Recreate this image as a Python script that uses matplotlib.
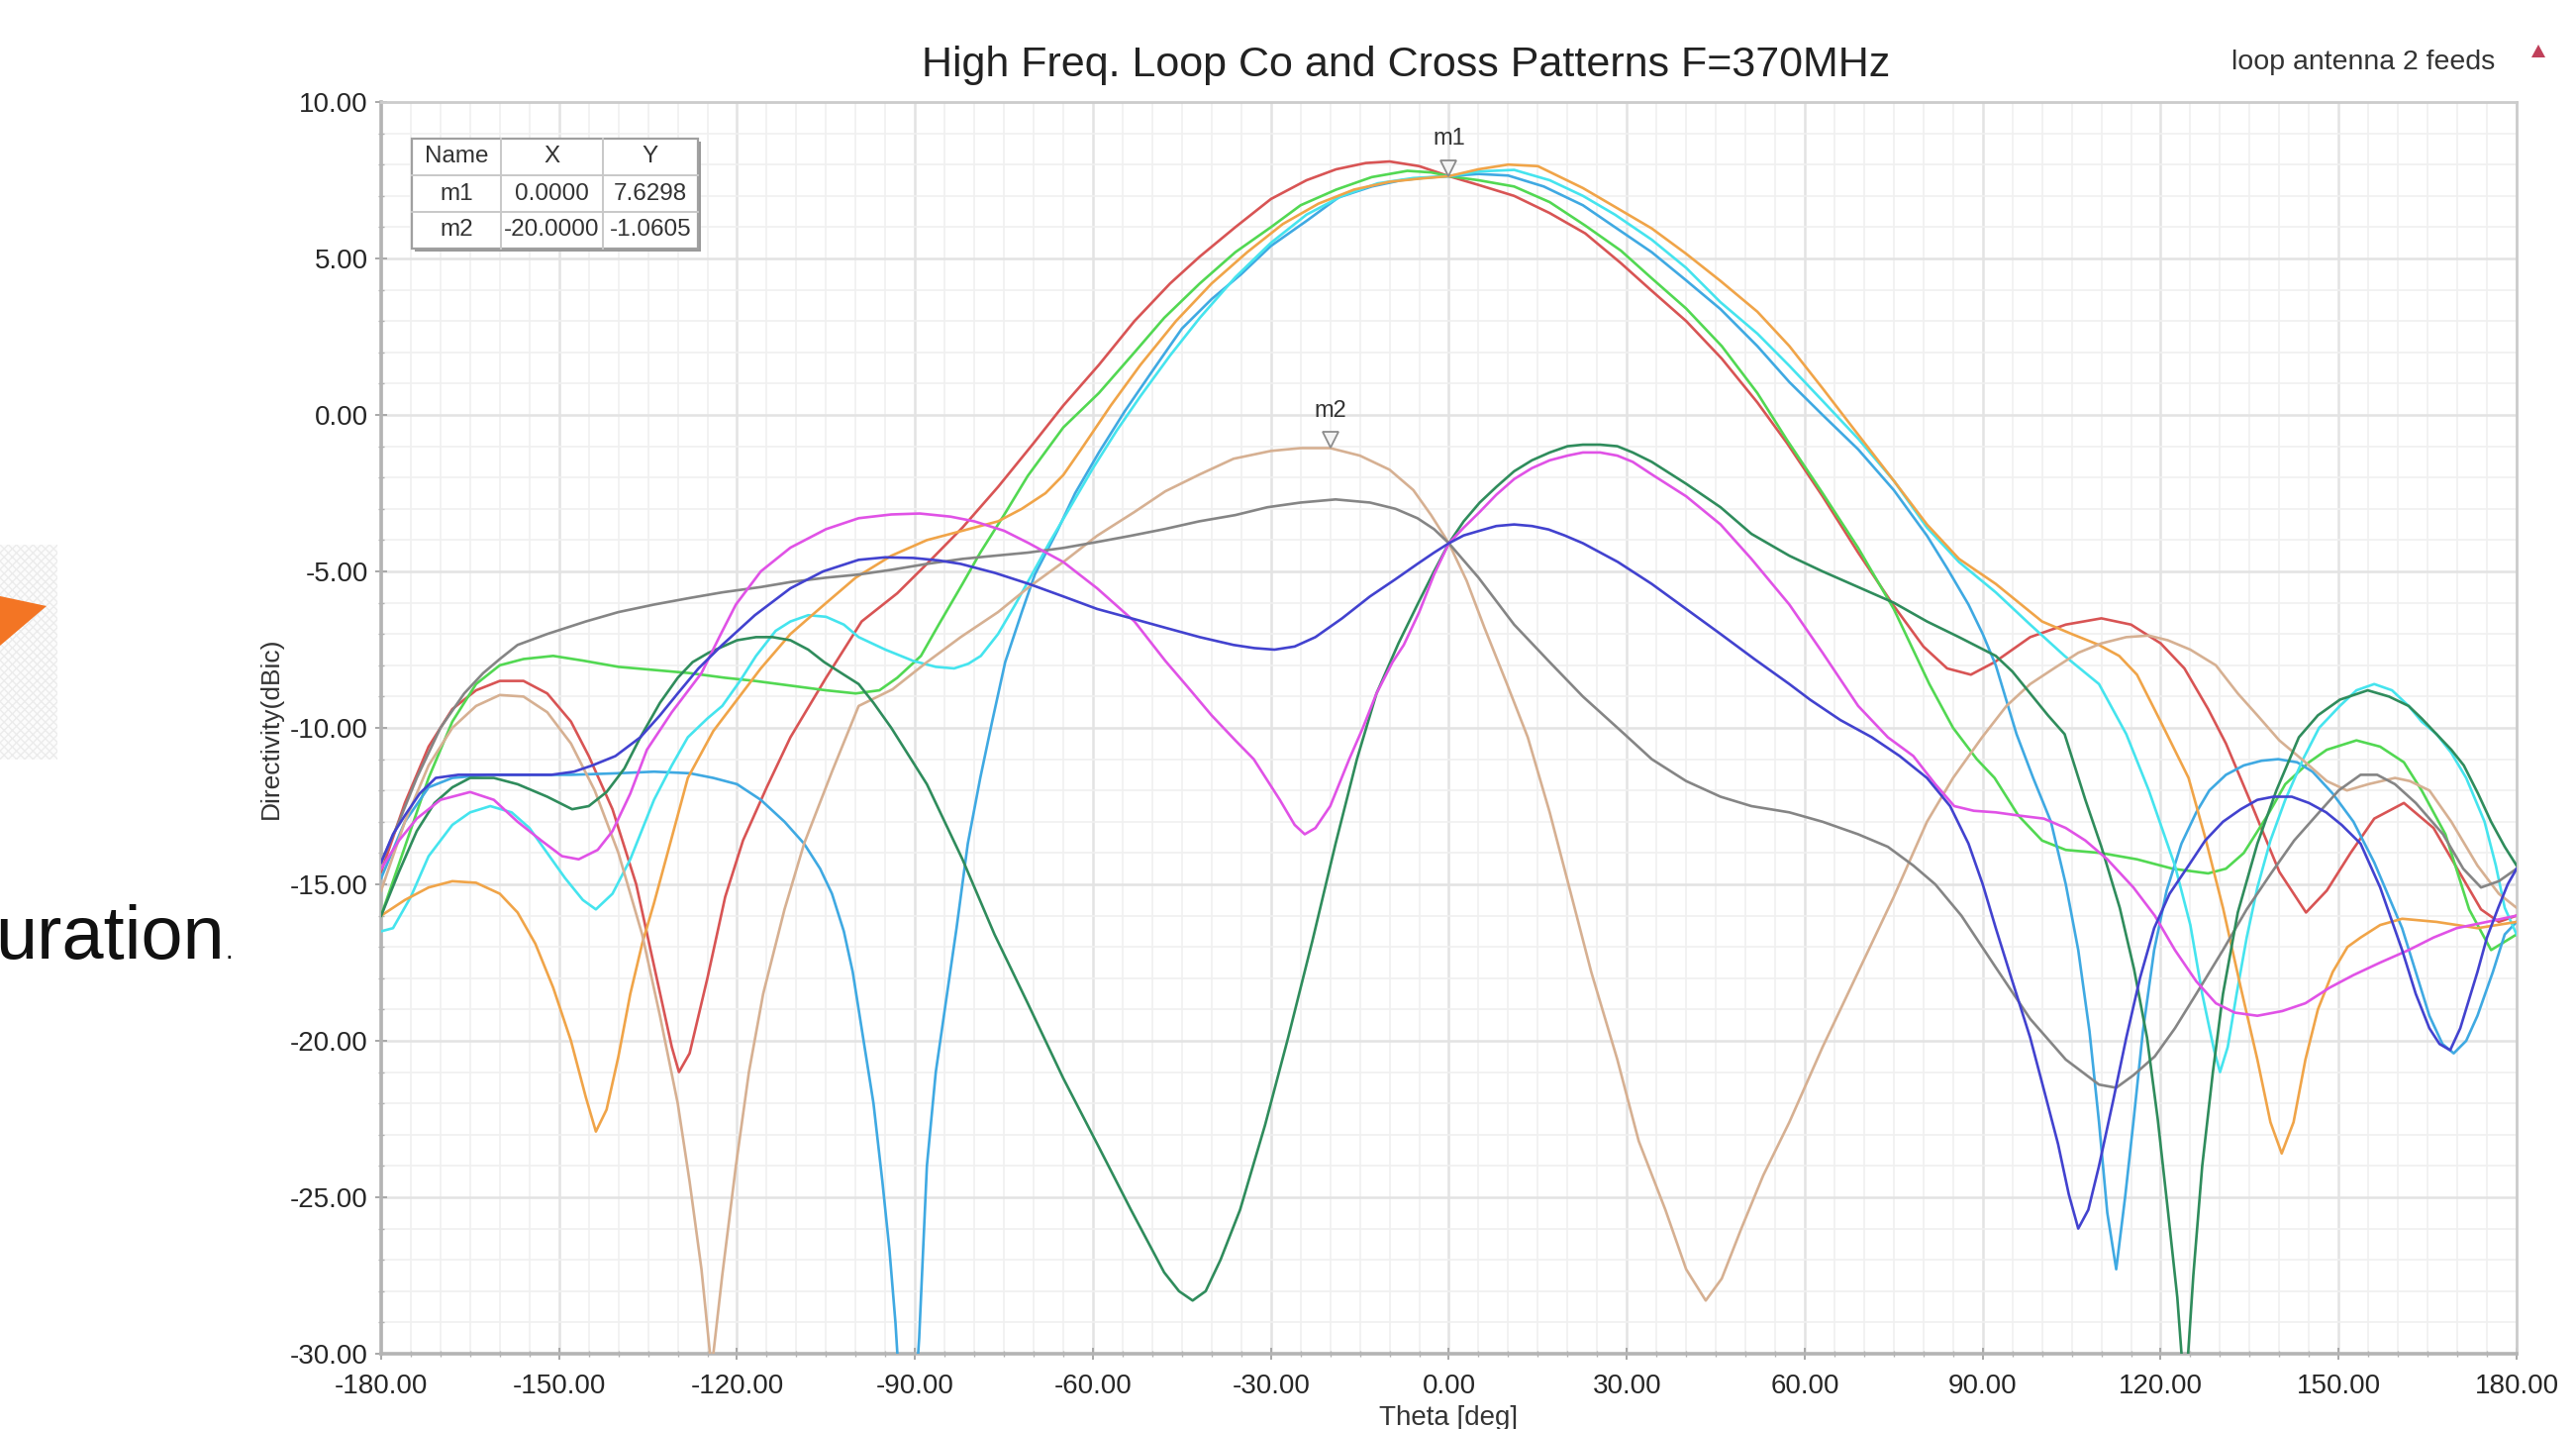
import matplotlib
matplotlib.use('Agg')
import matplotlib.pyplot as plt
from matplotlib.patches import Rectangle, Polygon
from matplotlib.ticker import MultipleLocator, FormatStrFormatter
from matplotlib.transforms import ScaledTranslation

plt.rcParams['font.family'] = ['Liberation Sans', 'DejaVu Sans']
plt.rcParams['axes.unicode_minus'] = False

W, H, DPI = 2602, 1443, 100

# ---- traces (theta in deg, directivity in dBic) ----
red_theta = [-180, -176, -172, -168, -164, -160, -156, -152, -148, -145, -141, -137, -134, -131, -129.8, -128, -125,
             -122, -119, -115, -111, -105, -99, -93, -88, -82, -76, -70, -65, -59, -53, -47, -42, -36, -30, -24, -19,
             -14, -10, -5, 0, 5, 11, 17, 23, 29, 34, 40, 46, 52, 57, 63, 69, 75, 80, 84, 88, 92, 98, 104, 110, 115,
             120, 124, 128, 131, 135, 140, 144.5, 148, 152, 156, 161, 166, 170, 174, 177, 180]
red_db = [-14.6, -12.4, -10.6, -9.4, -8.8, -8.5, -8.5, -8.9, -9.8, -10.9, -12.6, -15.0, -17.6, -20.2, -21.0, -20.4,
          -18.0, -15.4, -13.6, -11.9, -10.3, -8.4, -6.6, -5.7, -4.76, -3.6, -2.3, -0.9, 0.3, 1.6, 3.0, 4.2, 5.06, 6.0,
          6.9, 7.5, 7.85, 8.05, 8.1, 7.95, 7.63, 7.35, 7.0, 6.45, 5.8, 4.85, 4.0, 3.0, 1.8, 0.4, -0.9, -2.6, -4.4,
          -6.1, -7.4, -8.1, -8.3, -7.9, -7.1, -6.7, -6.5, -6.7, -7.3, -8.1, -9.4, -10.5, -12.3, -14.6, -15.9, -15.2,
          -14.0, -12.9, -12.4, -13.2, -14.5, -15.8, -16.2, -16.0]

green_theta = [-180, -176, -172, -168, -164, -160, -156, -151, -146, -140, -134, -128, -122, -117, -111, -105, -100,
               -96, -93, -89, -86, -82, -79, -75, -71, -65, -59, -53, -48, -42, -36, -30, -25, -19, -13, -7, -3, 0, 5,
               11, 17, 23, 29, 34, 40, 46, 52, 57, 63, 69, 75, 81, 85, 89, 92, 96, 100, 104, 110, 116, 122, 128, 131,
               134, 138, 141, 145, 148, 153, 157, 161, 164, 168, 172, 175.7, 180]
green_db = [-16.0, -13.8, -11.6, -9.8, -8.6, -8.0, -7.8, -7.7, -7.85, -8.05, -8.15, -8.25, -8.4, -8.5, -8.65, -8.8,
            -8.9, -8.8, -8.4, -7.7, -6.7, -5.4, -4.4, -3.2, -1.95, -0.4, 0.7, 2.0, 3.1, 4.2, 5.2, 6.0, 6.7, 7.2, 7.6,
            7.8, 7.75, 7.63, 7.5, 7.3, 6.8, 6.05, 5.25, 4.4, 3.4, 2.2, 0.7, -0.8, -2.5, -4.25, -6.2, -8.6, -10.0,
            -11.0, -11.6, -12.8, -13.6, -13.9, -14.0, -14.2, -14.5, -14.65, -14.5, -14.0, -12.8, -11.8, -11.1, -10.7,
            -10.4, -10.6, -11.1, -12.0, -13.4, -15.8, -17.1, -16.6]

sky_theta = [-180, -176, -172, -168, -162, -155, -148, -140, -134, -128, -124, -120, -116, -112, -108.7, -106, -104,
             -102, -100.5, -99, -97, -95.5, -94.3, -93.3, -92, -91.5, -90, -89.3, -88, -86.5, -84.6, -83, -81.1, -79,
             -77, -74.8, -72, -69.8, -66, -63, -59, -54.6, -50, -45, -40, -35, -30, -24, -18.6, -13, -8, -4, 0, 5, 10,
             16, 22.6, 28, 34.2, 40, 45.8, 52, 57.4, 63, 69, 75, 80.6, 84, 87.6, 90, 92.2, 95.7, 98.5, 101.5, 104,
             106.1, 108, 109.6, 111, 112.5, 114, 115.4, 117, 118.9, 121, 123.5, 126, 128.2, 131, 134, 137, 139.8, 143,
             145.6, 149, 152.5, 156, 160.7, 163, 165.3, 167.5, 169.4, 171.5, 173.4, 176, 178, 180]
sky_db = [-14.8, -13.0, -11.9, -11.6, -11.5, -11.5, -11.5, -11.45, -11.4, -11.45, -11.6, -11.8, -12.3, -13.0, -13.7,
          -14.5, -15.3, -16.5, -17.8, -19.6, -22.0, -24.5, -26.7, -29.0, -33.0, -35.0, -31.5, -29.5, -24.0, -21.0,
          -18.5, -16.4, -13.7, -11.6, -9.8, -7.9, -6.3, -5.1, -3.7, -2.5, -1.2, 0.13, 1.4, 2.76, 3.7, 4.5, 5.4, 6.2,
          6.95, 7.3, 7.5, 7.58, 7.63, 7.7, 7.65, 7.3, 6.7, 6.0, 5.2, 4.3, 3.38, 2.2, 1.05, 0.0, -1.1, -2.4, -3.86,
          -4.9, -6.06, -7.0, -8.0, -10.2, -11.6, -13.0, -15.0, -17.1, -19.7, -22.6, -25.5, -27.3, -25.0, -22.6, -19.7,
          -17.1, -15.2, -13.7, -12.7, -12.0, -11.5, -11.2, -11.05, -11.0, -11.1, -11.4, -12.1, -13.0, -14.3, -16.4,
          -17.8, -19.2, -20.1, -20.4, -20.0, -19.2, -17.8, -16.6, -16.2]

cyan_theta = [-180, -178, -175, -172, -168, -165, -161.6, -158, -155, -152, -149, -146, -143.8, -141, -138, -134, -131,
              -128.3, -125, -122.5, -119.5, -116.8, -113.5, -111, -108, -105, -102, -99.5, -95, -90.3, -86.5, -83.4,
              -81, -78.9, -76, -73.1, -70, -67.4, -64, -60, -56, -52, -47, -42, -36, -30, -24, -18, -12, -6, 0, 5,
              11, 17, 22.6, 28, 34.2, 40, 45.8, 52, 57.4, 63, 69, 75, 80.6, 86, 92.2, 98, 103.8, 109.6, 114.2, 118,
              122.4, 125, 127, 129, 130, 131.3, 132.8, 134.5, 136.3, 138.5, 141, 144, 146.7, 150.2, 153, 156, 159,
              161.8, 164, 166.5, 169, 171.5, 174.6, 176.5, 178, 180]
cyan_db = [-16.5, -16.4, -15.4, -14.1, -13.1, -12.7, -12.5, -12.7, -13.2, -14.0, -14.8, -15.5, -15.8, -15.3, -14.2,
           -12.3, -11.2, -10.3, -9.7, -9.3, -8.5, -7.7, -6.9, -6.6, -6.4, -6.45, -6.7, -7.1, -7.5, -7.86, -8.05, -8.1,
           -7.95, -7.7, -7.0, -6.06, -5.0, -4.1, -3.0, -1.7, -0.5, 0.6, 1.9, 3.1, 4.4, 5.5, 6.4, 7.0, 7.4, 7.57, 7.63,
           7.78, 7.83, 7.5, 7.0, 6.4, 5.6, 4.7, 3.6, 2.6, 1.57, 0.45, -0.76, -2.1, -3.6, -4.7, -5.67, -6.7, -7.7,
           -8.6, -10.2, -12.0, -14.4, -16.3, -18.5, -20.3, -21.0, -20.2, -18.5, -16.7, -15.1, -13.6, -12.3, -11.0,
           -10.0, -9.3, -8.8, -8.6, -8.8, -9.3, -9.8, -10.2, -10.8, -11.6, -13.0, -14.4, -15.75, -16.6]

orange_theta = [-180, -176, -172, -168, -164, -160, -157, -154, -151, -148, -145.5, -143.8, -142, -140, -138, -136,
                -134, -131, -128.3, -124, -120, -116, -111, -105.3, -100, -94, -88, -82, -76, -72, -68, -65, -62,
                -57, -52, -46, -40, -34, -28, -22, -16, -10, -5, 0, 5, 10, 15, 22.6, 28, 34.2, 40, 45.8, 52, 57.4, 63,
                69, 75, 80.6, 86, 92.2, 100, 105, 109.6, 113, 116, 120, 124.7, 127.5, 130.5, 133.5, 136.3, 138.5,
                140.4, 142.4, 144.4, 146.5, 149, 151.5, 153.7, 157, 160.7, 166.5, 173.4, 180]
orange_db = [-16.0, -15.5, -15.1, -14.9, -14.95, -15.3, -15.9, -16.9, -18.3, -20.0, -21.8, -22.9, -22.2, -20.5, -18.5,
             -16.9, -15.6, -13.5, -11.6, -10.1, -9.1, -8.1, -7.0, -6.06, -5.2, -4.5, -4.0, -3.7, -3.4, -3.0, -2.5,
             -1.92, -1.1, 0.3, 1.6, 3.0, 4.2, 5.2, 6.1, 6.75, 7.2, 7.45, 7.55, 7.63, 7.85, 8.0, 7.95, 7.25, 6.65, 5.96,
             5.15, 4.28, 3.3, 2.2, 0.85, -0.63, -2.1, -3.5, -4.6, -5.4, -6.6, -7.0, -7.35, -7.7, -8.3, -9.8, -11.6,
             -13.5, -15.75, -18.3, -20.6, -22.6, -23.6, -22.6, -20.6, -19.0, -17.8, -17.0, -16.7, -16.3, -16.1, -16.2,
             -16.4, -16.2]

tan_theta = [-180, -176, -172, -168, -164, -160, -156, -152, -148, -144, -140, -136, -133, -130, -128, -126, -124.3,
             -122.5, -120.2, -118, -115.6, -112, -108.7, -104, -99.5, -93.8, -88, -82.3, -76, -70.8, -65, -59.3, -53,
             -47.8, -42, -36.3, -30, -25, -20, -15, -10, -6, -3, 0, 3, 6, 9.8, 13.3, 17, 20.3, 24, 28.4, 32, 36.5,
             40, 43.3, 46, 49.3, 53, 57.4, 63, 69, 75, 80.6, 85, 89.9, 94, 98, 102, 106.1, 110, 114.2, 118, 121.2,
             125, 129.3, 133, 136.3, 140, 144.4, 148, 151.4, 155, 159.5, 162, 165.3, 169, 173.4, 177, 180]
tan_db = [-15.2, -13.0, -11.2, -10.0, -9.3, -8.95, -9.0, -9.5, -10.5, -12.0, -14.0, -16.6, -19.2, -22.0, -24.5, -27.3,
          -30.5, -27.5, -24.0, -21.0, -18.5, -15.8, -13.7, -11.4, -9.3, -8.77, -7.9, -7.1, -6.3, -5.5, -4.7, -3.86,
          -3.1, -2.44, -1.9, -1.4, -1.15, -1.06, -1.06, -1.3, -1.75, -2.4, -3.2, -4.1, -5.3, -6.8, -8.6, -10.3, -12.7,
          -15.1, -17.8, -20.6, -23.2, -25.4, -27.3, -28.3, -27.6, -26.0, -24.3, -22.6, -20.2, -17.8, -15.4, -13.0,
          -11.6, -10.3, -9.3, -8.6, -8.1, -7.6, -7.3, -7.1, -7.05, -7.2, -7.5, -8.0, -8.9, -9.6, -10.4, -11.1, -11.7,
          -12.0, -11.8, -11.6, -11.7, -12.0, -13.0, -14.4, -15.3, -15.75]

gray_theta = [-180, -177, -174, -170, -166, -162.8, -160, -157, -152, -145.5, -140, -134, -128, -122.5, -116, -111,
              -105, -99.5, -94, -88, -82, -76.6, -71, -65, -59, -53.6, -48, -42.1, -36, -30.6, -25, -19.1, -13.3, -9,
              -5.3, -2.5, 0, 5, 11, 17, 22.6, 29.6, 34.2, 40, 45.8, 51, 57.4, 63, 69, 74, 78.3, 82, 86.4, 92, 98, 104,
              109.6, 112.5, 115.4, 119, 122.4, 126, 130.5, 134.5, 138.6, 142.5, 146.7, 150, 153.7, 156.5, 159.5, 163,
              167.6, 171, 174, 177, 180]
gray_db = [-14.3, -13.0, -11.6, -10.0, -8.9, -8.25, -7.8, -7.35, -7.0, -6.6, -6.3, -6.06, -5.85, -5.67, -5.5, -5.34,
           -5.2, -5.1, -4.95, -4.76, -4.6, -4.5, -4.4, -4.25, -4.05, -3.86, -3.65, -3.4, -3.2, -2.95, -2.8, -2.7,
           -2.8, -3.0, -3.3, -3.65, -4.1, -5.2, -6.7, -7.9, -9.0, -10.2, -11.0, -11.7, -12.2, -12.5, -12.7, -13.0,
           -13.4, -13.8, -14.4, -15.0, -16.0, -17.6, -19.3, -20.6, -21.4, -21.5, -21.1, -20.5, -19.6, -18.5, -17.1,
           -15.8, -14.65, -13.6, -12.7, -12.0, -11.5, -11.5, -11.8, -12.4, -13.4, -14.5, -15.1, -14.9, -14.5]

dkgreen_theta = [-180, -177, -174, -171, -168, -165, -161, -157, -152, -147.8, -145, -142, -139, -136.3, -133, -130,
                 -127.5, -124.8, -120, -116.8, -114, -111, -108, -105.3, -102, -99.5, -97, -94, -91, -88, -82, -76.6,
                 -71, -65, -59, -53.6, -48, -45.5, -43.2, -41, -38.5, -35.2, -31, -27.1, -23, -19.1, -15.5, -12.2,
                 -8.5, -5.3, -2.5, 0, 2.5, 5.2, 8, 11, 14, 17, 20, 22.6, 25.5, 28.4, 31, 34.2, 40, 45.8, 51, 57.4, 63,
                 69, 75, 80.6, 86, 92.2, 95, 98, 101, 103.8, 107.3, 110, 113.1, 115.5, 117.7, 119.5, 121.2, 122.8,
                 124.1, 125.5, 127, 128.8, 130.5, 133, 136.3, 139.5, 143.3, 146.5, 150.2, 154.9, 158.5, 161.8, 164,
                 166.5, 169, 171.1, 173.5, 175.7, 178, 180]
dkgreen_db = [-16.0, -14.6, -13.3, -12.4, -11.9, -11.6, -11.6, -11.8, -12.2, -12.6, -12.5, -12.05, -11.3, -10.3,
              -9.2, -8.4, -7.9, -7.6, -7.2, -7.1, -7.1, -7.2, -7.5, -7.9, -8.3, -8.6, -9.2, -10.0, -10.9, -11.8,
              -14.2, -16.6, -18.8, -21.2, -23.4, -25.4, -27.4, -28.0, -28.3, -28.0, -27.0, -25.4, -22.7, -19.9, -16.8,
              -13.7, -11.0, -8.9, -7.3, -6.06, -5.0, -4.1, -3.4, -2.8, -2.3, -1.8, -1.45, -1.2, -1.0, -0.95, -0.95,
              -1.0, -1.2, -1.5, -2.2, -2.95, -3.8, -4.5, -5.0, -5.5, -6.0, -6.6, -7.1, -7.7, -8.2, -8.9, -9.6, -10.2,
              -12.3, -13.8, -15.75, -17.7, -19.9, -22.5, -25.4, -28.2, -31.5, -27.5, -24.0, -21.0, -18.5, -15.9,
              -13.7, -12.0, -10.3, -9.6, -9.1, -8.8, -9.0, -9.3, -9.7, -10.2, -10.7, -11.2, -12.1, -13.0, -13.8, -14.4]

magenta_theta = [-180, -177, -174, -170, -165, -161, -157, -153, -149.5, -146.7, -143.5, -141, -138, -135.2, -131,
                 -126, -123, -120.2, -116, -111, -105, -99.5, -94, -89.2, -84, -80, -75, -70.8, -65, -59.3, -53,
                 -47.8, -44, -40, -36, -32.9, -28.5, -26, -24.3, -22.5, -20, -16.8, -14.5, -12.2, -9.5, -7.6, -5, -2.5,
                 0, 2.5, 5.2, 8, 11, 14, 17, 20, 22.6, 25.5, 28.4, 31, 34.2, 40, 45.8, 51, 57.4, 63, 69, 74, 78.3, 82,
                 85.2, 88.5, 92.2, 96, 100.3, 104, 107.3, 111, 115.4, 119, 122.4, 126, 129.3, 132.5, 136.3, 140.5,
                 144.4, 148.5, 152.5, 157, 161.8, 166, 169.9, 175, 180]
magenta_db = [-14.5, -13.6, -12.9, -12.3, -12.05, -12.3, -13.0, -13.6, -14.1, -14.2, -13.9, -13.3, -12.1, -10.7,
              -9.5, -8.25, -7.1, -6.06, -5.0, -4.24, -3.65, -3.3, -3.18, -3.15, -3.25, -3.4, -3.7, -4.1, -4.7, -5.54,
              -6.6, -7.86, -8.7, -9.6, -10.4, -11.0, -12.3, -13.1, -13.4, -13.2, -12.5, -11.0, -10.0, -8.9, -7.9,
              -7.35, -6.3, -5.1, -4.1, -3.6, -3.1, -2.55, -2.05, -1.7, -1.45, -1.3, -1.2, -1.2, -1.3, -1.5, -1.9,
              -2.6, -3.5, -4.6, -6.06, -7.6, -9.3, -10.3, -10.9, -11.8, -12.5, -12.65, -12.7, -12.8, -12.9, -13.2,
              -13.6, -14.2, -15.1, -16.0, -17.1, -18.1, -18.8, -19.1, -19.2, -19.05, -18.8, -18.3, -17.9, -17.5,
              -17.1, -16.7, -16.4, -16.2, -16.0]

indigo_theta = [-180, -178, -176, -173.5, -170.8, -167, -162.8, -157, -151.3, -147.5, -144.4, -140.5, -136.3, -133,
                -130, -126.5, -122.5, -117, -111, -105.5, -99.5, -95, -90.3, -86, -82.3, -76.5, -70.8, -65, -59.3,
                -53.5, -47.8, -42, -36.3, -32.8, -29.4, -26, -22.5, -18, -13.3, -9, -5.3, -2.5, 0, 2.5, 5.2, 8, 11, 14,
                16.8, 19.5, 22.6, 28.5, 34.2, 40, 45.8, 51.5, 57.4, 60.9, 66, 71.3, 76, 80.6, 84.5, 87.6, 90, 92.2, 95,
                98, 100.5, 102.7, 104.5, 106.1, 107.8, 109.6, 112, 114.2, 116.5, 118.9, 121.5, 124.7, 127.5, 130.5,
                133.5, 136.3, 139, 142.1, 145, 147.9, 150.5, 153.7, 157, 160.7, 163, 165.3, 167, 168.8, 170.5, 173.4,
                175, 176.9, 178.5, 180]
indigo_db = [-14.3, -13.4, -12.8, -12.1, -11.6, -11.5, -11.5, -11.5, -11.5, -11.4, -11.2, -10.9, -10.3, -9.6, -8.9,
             -8.1, -7.35, -6.4, -5.54, -5.0, -4.63, -4.55, -4.57, -4.65, -4.76, -5.05, -5.4, -5.8, -6.2, -6.5, -6.8,
             -7.1, -7.35, -7.45, -7.5, -7.4, -7.1, -6.5, -5.8, -5.25, -4.76, -4.4, -4.1, -3.85, -3.7, -3.55, -3.5,
             -3.55, -3.66, -3.85, -4.1, -4.7, -5.4, -6.2, -7.0, -7.8, -8.6, -9.1, -9.75, -10.3, -10.9, -11.6, -12.5,
             -13.7, -15.0, -16.4, -18.1, -19.9, -21.7, -23.3, -24.9, -26.0, -25.4, -24.0, -21.9, -19.9, -18.0, -16.4,
             -15.3, -14.4, -13.6, -13.0, -12.6, -12.3, -12.2, -12.2, -12.4, -12.7, -13.1, -13.7, -15.1, -17.1, -18.5,
             -19.6, -20.1, -20.3, -19.6, -17.8, -16.7, -15.75, -15.0, -14.5]

# markers and table content
marker_names = ['m1', 'm2']
marker_x = [0.0, -20.0]
marker_y = [7.6298, -1.0605]
table_header = ['Name', 'X', 'Y']
table_rows = [['m1', '0.0000', '7.6298'], ['m2', '-20.0000', '-1.0605']]

traces = [
    (red_theta, red_db, '#d85454'),
    (green_theta, green_db, '#52d852'),
    (sky_theta, sky_db, '#3fa9e2'),
    (cyan_theta, cyan_db, '#45e4ee'),
    (orange_theta, orange_db, '#f0a448'),
    (tan_theta, tan_db, '#d6b092'),
    (gray_theta, gray_db, '#858585'),
    (dkgreen_theta, dkgreen_db, '#2f8c5c'),
    (magenta_theta, magenta_db, '#e052e6'),
    (indigo_theta, indigo_db, '#4242cf'),
]


def fx(px):
    return px / W


def fy(py):
    return 1 - py / H


def fig_rect(fig, x0, y0, x1, y1, **kw):
    rect = Rectangle((fx(x0), fy(y1)), fx(x1) - fx(x0), fy(y0) - fy(y1), transform=fig.transFigure, **kw)
    fig.add_artist(rect)
    return rect


fig = plt.figure(figsize=(W / DPI, H / DPI), dpi=DPI)
fig.patch.set_facecolor('white')

# left edge: remnant of the slide behind the chart
fig_rect(fig, 0, 550, 58, 767, facecolor='#fcfcfc', edgecolor='#ececec', hatch='xxxx', lw=0, zorder=0)
fig.add_artist(Polygon([(fx(0), fy(602)), (fx(47), fy(612)), (fx(0), fy(652))], closed=True,
                       transform=fig.transFigure, facecolor='#f37524', edgecolor='none'))
fig.text(fx(-5), fy(968), 'uration', fontsize=54.5, color='#111111', ha='left', va='baseline')
fig.text(fx(228), fy(968), '.', fontsize=20, color='#111111', ha='left', va='baseline')

ax = fig.add_axes([fx(385), fy(1367), fx(2542) - fx(385), fy(103) - fy(1367)])
for theta, db, color in traces:
    ax.plot(theta, db, color=color, lw=1.9, solid_joinstyle='round', zorder=3)

ax.set_xlim(-180, 180)
ax.set_ylim(-30, 10)
ax.xaxis.set_major_locator(MultipleLocator(30))
ax.xaxis.set_minor_locator(MultipleLocator(5))
ax.yaxis.set_major_locator(MultipleLocator(5))
ax.yaxis.set_minor_locator(MultipleLocator(1))
ax.xaxis.set_major_formatter(FormatStrFormatter('%.2f'))
ax.yaxis.set_major_formatter(FormatStrFormatter('%.2f'))
ax.grid(which='major', color='#e3e3e3', lw=1.8)
ax.grid(which='minor', color='#f0f0f0', lw=1.2)
ax.set_axisbelow(True)
ax.tick_params(which='major', direction='inout', length=9, width=1.4, color='#a8a8a8',
               labelsize=20, labelcolor='#262626')
ax.tick_params(which='minor', direction='inout', length=5, width=1.0, color='#b0b0b0')
ax.tick_params(axis='x', which='major', pad=10)
ax.tick_params(axis='y', which='major', pad=5)
for side in ('left', 'bottom'):
    ax.spines[side].set_color('#b4b4b4')
    ax.spines[side].set_linewidth(2.6)
for side in ('top', 'right'):
    ax.spines[side].set_color('#cccccc')
    ax.spines[side].set_linewidth(2.0)

# marker triangles and labels
lift = ScaledTranslation(0, 6 / 72, fig.dpi_scale_trans)
for name, mx, my in zip(marker_names, marker_x, marker_y):
    ax.plot([mx], [my], marker='v', ms=11, mfc='#f4f4f4', mec='#8c8c8c', mew=1.3,
            transform=ax.transData + lift, zorder=5, clip_on=False)
    ax.annotate(name, (mx, my), xytext=(0, 27), textcoords='offset points', ha='center', va='center',
                fontsize=17, color='#333333', zorder=6)

# marker table (top-left)
col_x = [416, 506, 609, 705]
row_y = [140, 177, 214, 251]
fig_rect(fig, col_x[0] + 3, row_y[0] + 3, col_x[-1] + 3, row_y[-1] + 3, facecolor='#9a9a9a', edgecolor='none',
         zorder=4)
fig_rect(fig, col_x[0], row_y[0], col_x[-1], row_y[-1], facecolor='white', edgecolor='#a0a0a0', lw=1.6, zorder=5)
for x in col_x[1:-1]:
    fig.add_artist(plt.Line2D([fx(x), fx(x)], [fy(row_y[0]), fy(row_y[-1])], transform=fig.transFigure,
                              color='#c8c8c8', lw=1.4, zorder=6))
for y in row_y[1:-1]:
    fig.add_artist(plt.Line2D([fx(col_x[0]), fx(col_x[-1])], [fy(y), fy(y)], transform=fig.transFigure,
                              color='#c8c8c8', lw=1.4, zorder=6))
for r, row in enumerate([table_header] + table_rows):
    yc = (row_y[r] + row_y[r + 1]) / 2
    for c, txt in enumerate(row):
        xc = (col_x[c] + col_x[c + 1]) / 2
        fig.text(fx(xc), fy(yc), txt, fontsize=17.5, color='#333333', ha='center', va='center', zorder=7)

# titles and labels
fig.text(fx(1420), fy(66), 'High Freq. Loop Co and Cross Patterns F=370MHz', fontsize=31, color='#222222',
         ha='center', va='center')
fig.text(fx(2387), fy(63), 'loop antenna 2 feeds', fontsize=20.5, color='#333333', ha='center', va='center')
fig.add_artist(Polygon([(fx(2557), fy(58)), (fx(2571), fy(58)), (fx(2564), fy(45))], closed=True,
                       transform=fig.transFigure, facecolor='#c0405a', edgecolor='none'))
fig.text(fx(274), fy(735), 'Directivity(dBic)', fontsize=19, color='#333333', rotation=90,
         ha='center', va='center')
fig.text(fx(1463), fy(1432), 'Theta [deg]', fontsize=20, color='#333333', ha='center', va='center')

fig.savefig('out.png', dpi=DPI, facecolor='white')
